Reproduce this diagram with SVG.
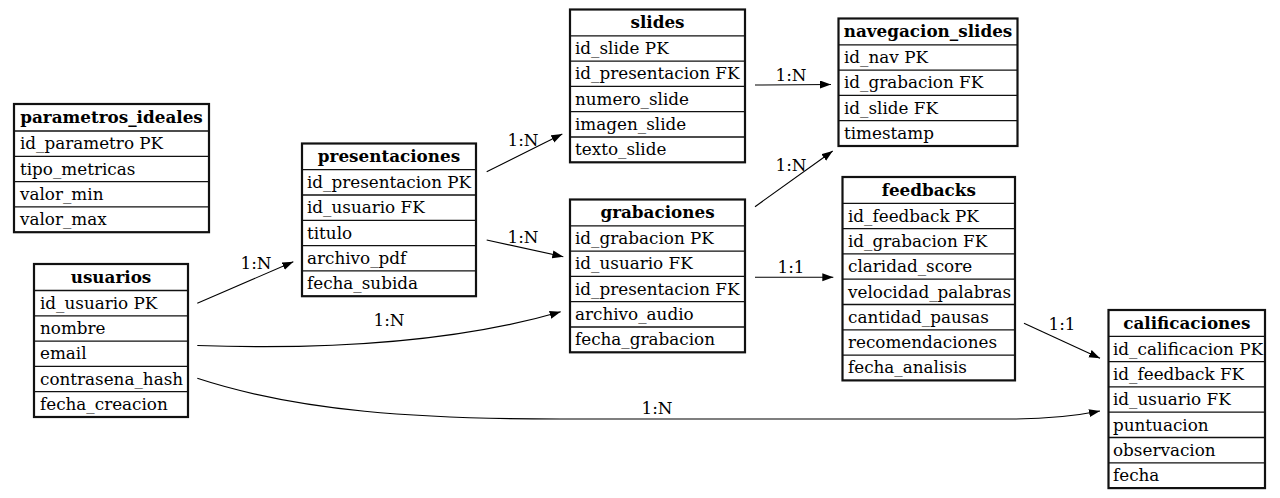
<svg xmlns="http://www.w3.org/2000/svg" width="1280" height="498" viewBox="0 0 1280 498">
<style>
.bg{fill:#ffffff}
.box{fill:#ffffff;stroke:#111;stroke-width:2.2}
.sep{stroke:#111;stroke-width:1.3}
.t{font-family:"DejaVu Serif","Liberation Serif",serif;font-size:16.8px;fill:#000}
.h{font-family:"DejaVu Serif","Liberation Serif",serif;font-size:16.8px;font-weight:bold;fill:#000;text-anchor:middle}
.e{fill:none;stroke:#000;stroke-width:1.1}
.lbl{font-family:"DejaVu Serif","Liberation Serif",serif;font-size:16.8px;fill:#000;text-anchor:middle}
</style>
<defs>
<marker id="arr" markerUnits="userSpaceOnUse" markerWidth="12" markerHeight="9" refX="11" refY="4" orient="auto">
<path d="M0,0 L11,4 L0,8 z" fill="#000"/>
</marker>
</defs>
<rect class="bg" x="0" y="0" width="1280" height="498"/>

<g id="connectors">
<path class="e" d="M486.7,171.7 L562.3,134" marker-end="url(#arr)"/>
<text class="lbl" x="523" y="146">1:N</text>
<path class="e" d="M486.7,240 L563.3,256.7" marker-end="url(#arr)"/>
<text class="lbl" x="523" y="243">1:N</text>
<path class="e" d="M755,85 L831,84.5" marker-end="url(#arr)"/>
<text class="lbl" x="791" y="81">1:N</text>
<path class="e" d="M755,206.7 L832.7,151" marker-end="url(#arr)"/>
<text class="lbl" x="791" y="171">1:N</text>
<path class="e" d="M755,277.3 L833.3,277.3" marker-end="url(#arr)"/>
<text class="lbl" x="791" y="273">1:1</text>
<path class="e" d="M1024,323.3 L1100,358.3" marker-end="url(#arr)"/>
<text class="lbl" x="1062" y="330">1:1</text>
<path class="e" d="M197.3,303.3 L293.3,261.7" marker-end="url(#arr)"/>
<text class="lbl" x="256" y="269">1:N</text>
<path class="e" d="M197.3,345.5 C300,349 440,347 560.7,311.7" marker-end="url(#arr)"/>
<text class="lbl" x="389" y="326">1:N</text>
<path class="e" d="M197.3,378.3 C300,412 420,419 560,419 L1010,419 C1045,419 1075,416 1100,411" marker-end="url(#arr)"/>
<text class="lbl" x="657" y="414">1:N</text>
</g>

<g id="parametros_ideales">
<rect class="box" x="14" y="104" width="195" height="128.2"/>
<line class="sep" x1="14" y1="131" x2="209" y2="131"/>
<line class="sep" x1="14" y1="156.3" x2="209" y2="156.3"/>
<line class="sep" x1="14" y1="181.6" x2="209" y2="181.6"/>
<line class="sep" x1="14" y1="206.9" x2="209" y2="206.9"/>
<text class="h" x="111.5" y="122.5">parametros_ideales</text>
<text class="t" x="20" y="149.3">id_parametro PK</text>
<text class="t" x="20" y="174.6">tipo_metricas</text>
<text class="t" x="20" y="199.9">valor_min</text>
<text class="t" x="20" y="225.2">valor_max</text>
</g>

<g id="usuarios">
<rect class="box" x="34" y="264" width="154" height="153"/>
<line class="sep" x1="34" y1="290.5" x2="188" y2="290.5"/>
<line class="sep" x1="34" y1="315.8" x2="188" y2="315.8"/>
<line class="sep" x1="34" y1="341.1" x2="188" y2="341.1"/>
<line class="sep" x1="34" y1="366.4" x2="188" y2="366.4"/>
<line class="sep" x1="34" y1="391.7" x2="188" y2="391.7"/>
<text class="h" x="111" y="282.5">usuarios</text>
<text class="t" x="40" y="308.8">id_usuario PK</text>
<text class="t" x="40" y="334.1">nombre</text>
<text class="t" x="40" y="359.4">email</text>
<text class="t" x="40" y="384.7">contrasena_hash</text>
<text class="t" x="40" y="410">fecha_creacion</text>
</g>

<g id="presentaciones">
<rect class="box" x="302" y="143.5" width="174" height="152.7"/>
<line class="sep" x1="302" y1="169.7" x2="476" y2="169.7"/>
<line class="sep" x1="302" y1="195" x2="476" y2="195"/>
<line class="sep" x1="302" y1="220.3" x2="476" y2="220.3"/>
<line class="sep" x1="302" y1="245.6" x2="476" y2="245.6"/>
<line class="sep" x1="302" y1="270.9" x2="476" y2="270.9"/>
<text class="h" x="389" y="162">presentaciones</text>
<text class="t" x="307" y="188">id_presentacion PK</text>
<text class="t" x="307" y="213.3">id_usuario FK</text>
<text class="t" x="307" y="238.6">titulo</text>
<text class="t" x="307" y="263.9">archivo_pdf</text>
<text class="t" x="307" y="289.2">fecha_subida</text>
</g>

<g id="slides">
<rect class="box" x="570" y="9.5" width="175" height="152.8"/>
<line class="sep" x1="570" y1="35.8" x2="745" y2="35.8"/>
<line class="sep" x1="570" y1="61.1" x2="745" y2="61.1"/>
<line class="sep" x1="570" y1="86.4" x2="745" y2="86.4"/>
<line class="sep" x1="570" y1="111.7" x2="745" y2="111.7"/>
<line class="sep" x1="570" y1="137" x2="745" y2="137"/>
<text class="h" x="657.5" y="28">slides</text>
<text class="t" x="575" y="54.1">id_slide PK</text>
<text class="t" x="575" y="79.4">id_presentacion FK</text>
<text class="t" x="575" y="104.7">numero_slide</text>
<text class="t" x="575" y="130">imagen_slide</text>
<text class="t" x="575" y="155.3">texto_slide</text>
</g>

<g id="grabaciones">
<rect class="box" x="570" y="199.5" width="175" height="152.8"/>
<line class="sep" x1="570" y1="225.8" x2="745" y2="225.8"/>
<line class="sep" x1="570" y1="251.1" x2="745" y2="251.1"/>
<line class="sep" x1="570" y1="276.4" x2="745" y2="276.4"/>
<line class="sep" x1="570" y1="301.7" x2="745" y2="301.7"/>
<line class="sep" x1="570" y1="327" x2="745" y2="327"/>
<text class="h" x="657.5" y="218">grabaciones</text>
<text class="t" x="575" y="244.1">id_grabacion PK</text>
<text class="t" x="575" y="269.4">id_usuario FK</text>
<text class="t" x="575" y="294.7">id_presentacion FK</text>
<text class="t" x="575" y="320">archivo_audio</text>
<text class="t" x="575" y="345.3">fecha_grabacion</text>
</g>

<g id="navegacion_slides">
<rect class="box" x="838.5" y="18.5" width="179" height="127.5"/>
<line class="sep" x1="838.5" y1="44.8" x2="1017.5" y2="44.8"/>
<line class="sep" x1="838.5" y1="70.1" x2="1017.5" y2="70.1"/>
<line class="sep" x1="838.5" y1="95.4" x2="1017.5" y2="95.4"/>
<line class="sep" x1="838.5" y1="120.7" x2="1017.5" y2="120.7"/>
<text class="h" x="928" y="37">navegacion_slides</text>
<text class="t" x="844" y="63.1">id_nav PK</text>
<text class="t" x="844" y="88.4">id_grabacion FK</text>
<text class="t" x="844" y="113.7">id_slide FK</text>
<text class="t" x="844" y="139">timestamp</text>
</g>

<g id="feedbacks">
<rect class="box" x="842.5" y="177" width="172.5" height="203.4"/>
<line class="sep" x1="842.5" y1="203.3" x2="1015" y2="203.3"/>
<line class="sep" x1="842.5" y1="228.6" x2="1015" y2="228.6"/>
<line class="sep" x1="842.5" y1="253.9" x2="1015" y2="253.9"/>
<line class="sep" x1="842.5" y1="279.2" x2="1015" y2="279.2"/>
<line class="sep" x1="842.5" y1="304.5" x2="1015" y2="304.5"/>
<line class="sep" x1="842.5" y1="329.8" x2="1015" y2="329.8"/>
<line class="sep" x1="842.5" y1="355.1" x2="1015" y2="355.1"/>
<text class="h" x="928.8" y="195.5">feedbacks</text>
<text class="t" x="848" y="221.6">id_feedback PK</text>
<text class="t" x="848" y="246.9">id_grabacion FK</text>
<text class="t" x="848" y="272.2">claridad_score</text>
<text class="t" x="848" y="297.5">velocidad_palabras</text>
<text class="t" x="848" y="322.8">cantidad_pausas</text>
<text class="t" x="848" y="348.1">recomendaciones</text>
<text class="t" x="848" y="373.4">fecha_analisis</text>
</g>

<g id="calificaciones">
<rect class="box" x="1108.5" y="310" width="156.5" height="178.1"/>
<line class="sep" x1="1108.5" y1="336.3" x2="1265" y2="336.3"/>
<line class="sep" x1="1108.5" y1="361.6" x2="1265" y2="361.6"/>
<line class="sep" x1="1108.5" y1="386.9" x2="1265" y2="386.9"/>
<line class="sep" x1="1108.5" y1="412.2" x2="1265" y2="412.2"/>
<line class="sep" x1="1108.5" y1="437.5" x2="1265" y2="437.5"/>
<line class="sep" x1="1108.5" y1="462.8" x2="1265" y2="462.8"/>
<text class="h" x="1186.8" y="328.5">calificaciones</text>
<text class="t" x="1113" y="354.6">id_calificacion PK</text>
<text class="t" x="1113" y="379.9">id_feedback FK</text>
<text class="t" x="1113" y="405.2">id_usuario FK</text>
<text class="t" x="1113" y="430.5">puntuacion</text>
<text class="t" x="1113" y="455.8">observacion</text>
<text class="t" x="1113" y="481.1">fecha</text>
</g>
</svg>
